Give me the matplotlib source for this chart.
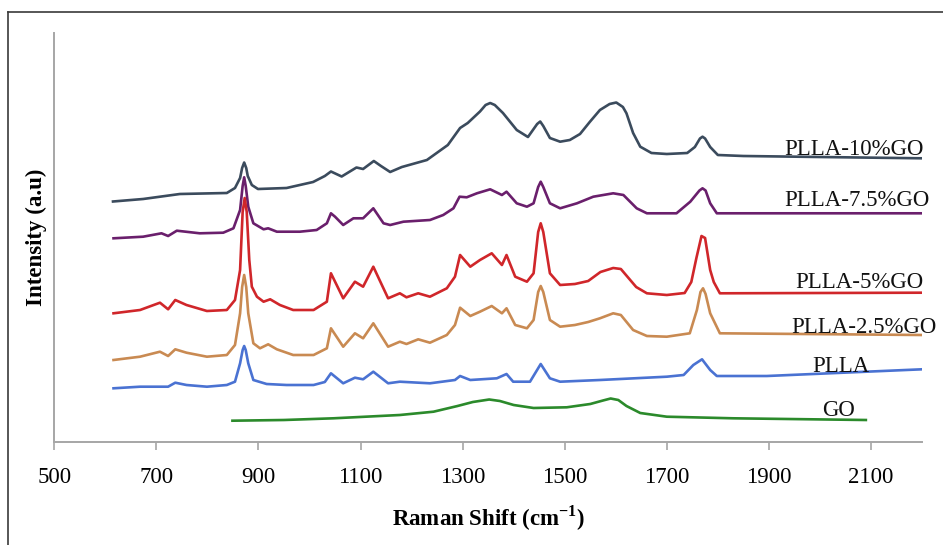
import matplotlib
matplotlib.use("Agg")
import matplotlib.pyplot as plt
from matplotlib.lines import Line2D

plt.rcParams['font.family'] = ['Liberation Serif', 'DejaVu Serif']
plt.rcParams['mathtext.fontset'] = 'custom'
plt.rcParams['mathtext.rm'] = 'Liberation Serif'
plt.rcParams['mathtext.bf'] = 'Liberation Serif:bold'

# ---- data (Raman shift cm^-1, intensity a.u. with stacking offsets) ----
go10_x = [615, 674, 746, 838, 854, 864, 868, 872, 876, 879, 887, 899, 955, 1007, 1030, 1042, 1063, 1092, 1105, 1126,
          1140, 1158, 1181, 1230, 1271, 1295, 1310, 1334, 1345, 1354, 1363, 1379, 1406, 1428, 1446, 1452, 1458, 1471, 1491, 1510,
          1530, 1549, 1569, 1588, 1601, 1614, 1621, 1634, 1648, 1670, 1700, 1740, 1755, 1765, 1770, 1775, 1785, 1800,
          1850, 2000, 2200]
go10_y = [240.5, 243, 248, 249, 254, 264, 274, 279.5, 274, 266, 257, 253, 254, 260, 266, 270.5, 265.5, 274.5, 273, 281,
          276, 270, 275, 282, 297, 314, 319, 330.5, 337, 339, 337, 329, 312, 305, 318, 320.5, 316, 304, 300.3, 302,
          308, 320, 332, 338, 339.5, 335, 328.7, 309, 295.3, 289, 288, 289, 295, 303.5, 305.3, 303.5, 295, 287,
          286, 285, 283.7]

go75_x = [616, 674, 710, 723, 740, 785, 831, 851, 864, 869, 872, 875, 880, 890, 910, 919, 936, 981, 1014, 1034, 1042,
          1050, 1066, 1086, 1105, 1125, 1145, 1158, 1184, 1236, 1262, 1282, 1294, 1308, 1328, 1354, 1377,
          1386, 1406, 1426, 1439, 1448, 1453, 1458, 1471, 1491, 1524, 1556, 1595, 1615, 1641, 1661, 1719, 1746, 1764, 1770,
          1776, 1785, 1798, 1961, 2200]
go75_y = [203.7, 205.3, 208.7, 206, 211.3, 208.7, 209.3, 213.7, 232, 256, 264.7, 256, 235.3, 218.7, 212.7, 213.7, 210.3,
          210.3, 212, 218.7, 228.7, 225.3, 217, 223.7, 223.7, 233.7, 218.7, 217, 220.3, 222, 227, 233.7,
          245.3, 244.7, 248.7, 252.7, 247, 250.3, 238.7, 235.3, 238.7, 255, 260.3, 255, 238.7, 233.7, 238.7, 245.3,
          248.7, 247, 233.7, 228.7, 228.7, 240.3, 251.5, 253.7, 251.5, 238.7, 228.7, 228.7, 228.7]

go5_x = [616, 668, 707, 723, 737, 759, 799, 838, 854, 864, 869, 873, 877, 882, 887, 897, 910, 923, 942, 968, 1008,
         1034, 1042, 1066, 1089, 1105, 1125, 1154, 1177, 1190, 1213, 1236, 1269, 1285, 1295, 1315, 1334,
         1357, 1377, 1386, 1403, 1426, 1439, 1448, 1453, 1458, 1471, 1491, 1520, 1546, 1570, 1595, 1610, 1625, 1640,
         1661, 1700, 1735, 1748, 1758, 1768, 1775, 1785, 1792, 1804, 2200]
go5_y = [128.7, 132, 139.3, 132.7, 142, 137, 131, 132, 142, 172, 230, 244, 230, 182, 155.3, 145.3, 140.3, 142.7, 137,
         132, 132, 140.3, 168.7, 143.7, 160.3, 155.3, 175.3, 143.7, 148.7, 144.7, 148.7, 145.3, 153.7,
         165.3, 187, 175.3, 182, 188.7, 177, 187, 165.3, 160.3, 168.7, 210, 218.7, 210, 168.7, 157, 158, 161, 170,
         174, 173, 164, 155, 148.7, 147, 149, 160, 184, 206, 204, 172, 160, 148.7, 149.3]

go25_x = [616, 668, 707, 723, 737, 759, 799, 838, 854, 864, 868, 872, 876, 880, 890, 903, 919, 936, 968, 1008, 1034,
          1042, 1066, 1089, 1105, 1125, 1154, 1177, 1190, 1213, 1236, 1269, 1285, 1295, 1315, 1334, 1357,
          1377, 1386, 1403, 1426, 1439, 1448, 1453, 1458, 1471, 1491, 1520, 1546, 1569, 1595, 1610, 1634, 1661, 1700,
          1745, 1759, 1766, 1771, 1776, 1785, 1804, 2200]
go25_y = [82, 85.3, 90.3, 86, 92.7, 89.3, 85.3, 87, 97, 128.7, 155, 167, 155, 128.7, 98.7, 93.7, 97.7, 92.7, 87, 87,
          93.7, 113.7, 95.3, 108.7, 103.7, 118.7, 95.3, 100.3, 98, 102.7, 99.3, 107, 117, 134.3, 126, 130.3,
          136, 128.7, 133.7, 117, 113.7, 122, 150, 156, 150, 122, 115.3, 117, 120, 123.7, 128.7, 127, 112, 106, 105.3,
          108.7, 132, 150, 153.7, 148, 128.7, 108.7, 107]

plla_x = [616, 668, 723, 737, 759, 799, 838, 854, 864, 869, 872, 875, 880, 890, 916, 955, 1008, 1030, 1042, 1066,
          1089, 1105, 1125, 1154, 1177, 1236, 1285, 1295, 1315, 1367, 1386, 1399, 1432, 1453, 1471, 1491,
          1569, 1700, 1733, 1752, 1769, 1785, 1798, 1896, 2200]
plla_y = [53.7, 55.3, 55.3, 59.3, 57, 55.3, 57, 60.3, 78.7, 92, 96, 92, 78.7, 62, 58, 57, 57, 60, 68.7, 58.7,
          64.3, 62.7, 70.3, 58.7, 60.3, 58.7, 62, 66, 62, 63.7, 68, 60.3, 60.3, 78, 63.7, 60.3,
          62, 65.3, 67, 77, 82.7, 72, 66, 66, 72.7]

go_x = [849, 950, 1047, 1177, 1243, 1290, 1320, 1352, 1373, 1400, 1439, 1504, 1550, 1575, 1590, 1605,
        1621, 1648, 1700, 1830, 2090]
go_y = [21.3, 22, 23.7, 27, 30.3, 36, 40, 42.5, 41, 37, 34, 34.7, 38, 41.5, 43.5, 42, 36, 29, 25.3,
        23.7, 22]

series_names = ["PLLA-10%GO", "PLLA-7.5%GO", "PLLA-5%GO", "PLLA-2.5%GO", "PLLA", "GO"]
series_x = [go10_x, go75_x, go5_x, go25_x, plla_x, go_x]
series_y = [go10_y, go75_y, go5_y, go25_y, plla_y, go_y]
colors = ["#3b4b5d", "#6a1f6c", "#d0262a", "#c98a52", "#4a72d2", "#2b8a2b"]

# label anchor (right edge x, baseline y)
label_pos = [(2203, 287), (2216, 236), (2203, 153.7), (2229, 109.3), (2097, 70.3), (2068, 26)]

xticks = [500, 700, 900, 1100, 1300, 1500, 1700, 1900, 2100]

# ---- figure ----
fig = plt.figure(figsize=(9.43, 5.45), dpi=100)
ax = fig.add_axes([54.3 / 943, 103 / 545, (922 - 54.3) / 943, (442 - 33) / 545])

for x, y, c in zip(series_x, series_y, colors):
    ax.plot(x, y, color=c, lw=1.9, solid_joinstyle='round')

for name, (lx, ly) in zip(series_names, label_pos):
    ax.text(lx, ly, name, ha='right', va='baseline', fontsize=16.5, color='#111111')

ax.set_xlim(500, 2200)
ax.set_ylim(0, 409)
ax.set_xticks(xticks)
ax.set_yticks([])
ax.tick_params(axis='x', length=6, width=1.2, color='#a6a6a6', labelsize=16.5, pad=12)

for s in ['top', 'right']:
    ax.spines[s].set_visible(False)
for s in ['left', 'bottom']:
    ax.spines[s].set_color('#a6a6a6')
    ax.spines[s].set_linewidth(1.4)

ax.set_xlabel("Raman Shift (cm$^{\\mathbf{-1}}$)", fontsize=16.5, fontweight='bold', labelpad=11)
ax.set_ylabel("Intensity (a.u)", fontsize=16.5, fontweight='bold', labelpad=5)

# outer frame (left and top edges visible)
fig.add_artist(Line2D([8 / 943, 8 / 943], [0, 1 - 12 / 545], transform=fig.transFigure, color='#3a3a3a', lw=1.2))
fig.add_artist(Line2D([8 / 943, 1], [1 - 12 / 545, 1 - 12 / 545], transform=fig.transFigure, color='#3a3a3a', lw=1.2))

fig.savefig("out.png", dpi=100)
